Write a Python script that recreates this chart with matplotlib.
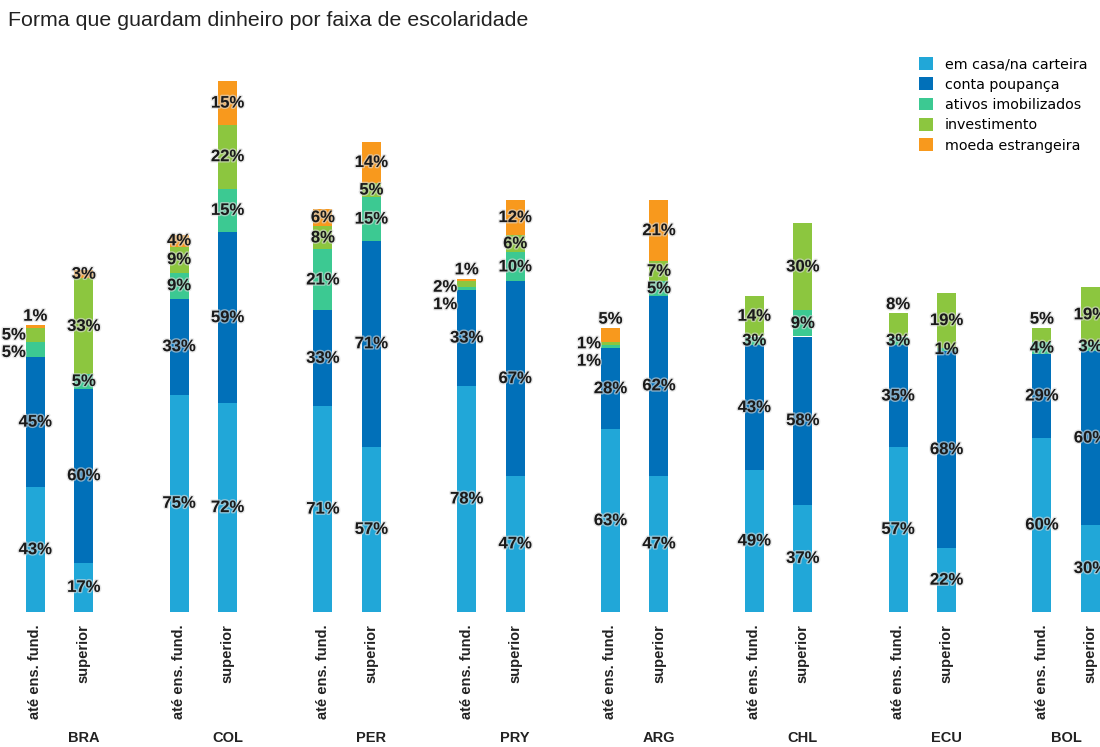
import numpy as np
import matplotlib.pyplot as plt
import matplotlib.patheffects as pe

plt.rcParams['font.family'] = ['Liberation Sans', 'DejaVu Sans']

countries = ['BRA', 'COL', 'PER', 'PRY', 'ARG', 'CHL', 'ECU', 'BOL']
levels = ['até ens. fund.', 'superior']
series = ['em casa/na carteira', 'conta poupança', 'ativos imobilizados',
          'investimento', 'moeda estrangeira']
colors = ['#21a7d8', '#0170b9', '#3cc992', '#8cc63f', '#f8991d']

em_casa_fund = [43, 75, 71, 78, 63, 49, 57, 60]
em_casa_sup = [17, 72, 57, 47, 47, 37, 22, 30]
poupanca_fund = [45, 33, 33, 33, 28, 43, 35, 29]
poupanca_sup = [60, 59, 71, 67, 62, 58, 68, 60]
imob_fund = [5, 9, 21, 1, 1, 3, 3, 4]
imob_sup = [5, 15, 15, 10, 5, 9, 1, 3]
invest_fund = [5, 9, 8, 2, 1, 14, 8, 5]
invest_sup = [33, 22, 5, 6, 7, 30, 19, 19]
moeda_fund = [1, 4, 6, 1, 5, 0, 0, 0]
moeda_sup = [3, 15, 14, 12, 21, 0, 0, 0]

fund = np.array([em_casa_fund, poupanca_fund, imob_fund, invest_fund, moeda_fund])
sup = np.array([em_casa_sup, poupanca_sup, imob_sup, invest_sup, moeda_sup])

W, H = 1100, 747
fig = plt.figure(figsize=(W / 100, H / 100), dpi=100)
ax = fig.add_axes([0, 135 / H, 1, 552 / H])

step = 143.8
x0 = 59.5
off = 24.25 / step
bw = 19 / step
idx = np.arange(len(countries))
xf = idx - off
xs = idx + off

for data, xpos in [(fund, xf), (sup, xs)]:
    bottom = np.zeros(len(countries))
    for k in range(len(series)):
        ax.bar(xpos, data[k], bw, bottom=bottom, color=colors[k],
               label=series[k] if xpos is xf else None, linewidth=0)
        bottom += data[k]

xmax = (W - x0) / step
ax.set_xlim(-x0 / step, xmax)
ax.set_ylim(0, 552 / 2.9)

halo = [pe.withStroke(linewidth=2, foreground='#d8d8d8', alpha=0.6)]
lab_kw = dict(fontsize=12, fontweight='bold', color='#1a1a1a', path_effects=halo)
gap = 5.8

def label_bar(x, vals):
    cum = np.cumsum(vals)
    top = cum[-1]
    labs = [(c - v / 2, v) for v, c in zip(vals, cum) if v > 0]
    n = len(labs)
    mode = ['in'] * n
    if n >= 2 and labs[-1][0] - labs[-2][0] < gap:
        mode[-1] = 'above'
    last = n - 2 if mode[-1] == 'above' else n - 1
    for k in range(last):
        if labs[k + 1][0] - labs[k][0] < gap:
            mode[k] = 'left'
            mode[k + 1] = 'left'
    prev = np.inf
    for k in range(n - 1, -1, -1):
        c, v = labs[k]
        txt = f'{v}%'
        if mode[k] == 'above':
            prev = top + 3
            ax.text(x, prev, txt, ha='center', va='center', **lab_kw)
        elif mode[k] == 'left':
            y = min(c, prev - 6)
            prev = y
            ax.text(x - bw / 2, y, txt, ha='right', va='center', **lab_kw)
        else:
            prev = c
            ax.text(x, c, txt, ha='center', va='center', **lab_kw)

for i in range(len(countries)):
    label_bar(xf[i], fund[:, i])
    label_bar(xs[i], sup[:, i])

ticks = np.ravel(np.column_stack([xf, xs]))
ax.set_xticks(ticks)
ax.set_xticklabels(levels * len(countries), rotation=90, fontsize=10.5,
                   fontweight='bold', color='#222222', va='top')
ax.tick_params(axis='x', length=0, pad=9)
ax.set_yticks([])
for s in ax.spines.values():
    s.set_visible(False)

# group names sit under the second bar, kept inside the visible area
for i, c in enumerate(countries):
    gx = min(xs[i], xmax - 34 / step)
    ax.annotate(c, xy=(gx, 0), xycoords=('data', 'axes fraction'),
                xytext=(0, -126), textcoords='offset pixels', ha='center',
                va='center', fontsize=10.5, fontweight='bold', color='#222222')

fig.text(8 / W, 1 - 20 / H, 'Forma que guardam dinheiro por faixa de escolaridade',
         fontsize=15.4, color='#222222', ha='left', va='center')

ax.legend(loc='upper left', bbox_to_anchor=(919 / W, 1 - 57 / H),
          bbox_transform=fig.transFigure, frameon=False,
          prop={'family': 'DejaVu Sans', 'size': 10.3},
          handlelength=1.0, handleheight=1.0, handletextpad=0.8,
          labelspacing=0.42, borderpad=0, borderaxespad=0)

plt.savefig('out.png', dpi=100)
plt.close('all')
